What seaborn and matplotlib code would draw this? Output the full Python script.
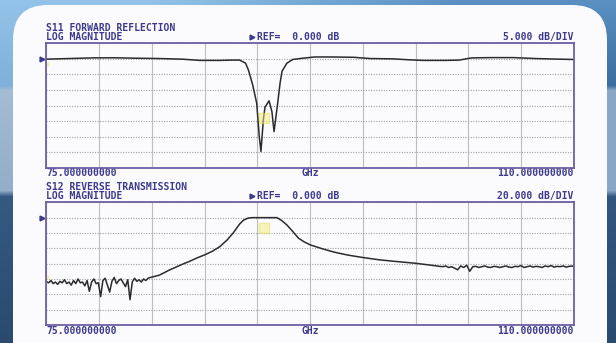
import numpy as np
import seaborn as sns
import matplotlib.pyplot as plt
from matplotlib.patches import FancyBboxPatch
import matplotlib.transforms as mtransforms

# Sweep settings (GHz) and display scale
f_start, f_stop = 75.0, 110.0
s11_ref, s11_div = 0.0, 5.0
s12_ref, s12_div = 0.0, 20.0

# S11 forward reflection (GHz, dB)
s11_freq = [75.0, 76.5, 78.0, 79.5, 81.0, 82.5, 84.0, 85.2, 86.5, 87.3, 87.83,
            88.22, 88.41, 88.7, 88.96, 89.13, 89.24, 89.4, 89.51, 89.78, 89.97,
            90.11, 90.35, 90.51, 90.64, 90.96, 91.35, 92.0, 92.8, 94.0, 95.4,
            96.5, 98.0, 99.04, 100.0, 101.5, 102.4, 103.2, 104.5, 106.0, 107.5,
            109.0, 110.0]
s11_db = [-0.1, 0.1, 0.3, 0.35, 0.2, 0.1, -0.1, -0.5, -0.5, -0.4, -0.4,
          -1.4, -3.6, -8.5, -14.3, -25.0, -29.8, -19.6, -15.5, -13.5, -17.0,
          -23.4, -14.3, -7.8, -4.0, -1.4, -0.2, 0.2, 0.6, 0.6, 0.5,
          0.1, 0.0, -0.3, -0.5, -0.5, -0.4, 0.3, 0.4, 0.4, 0.1,
          -0.1, -0.2]

# S12 reverse transmission (GHz, dB): noisy floor, passband, noisy floor
s12_freq = [75.00, 75.15, 75.30, 75.45, 75.60, 75.75, 75.90, 76.05, 76.20, 76.35,
            76.50, 76.65, 76.80, 76.95, 77.10, 77.25, 77.40, 77.55, 77.70, 77.85,
            78.00, 78.15, 78.30, 78.45, 78.60, 78.75, 78.90, 79.05, 79.20, 79.35,
            79.50, 79.65, 79.80, 79.95, 80.10, 80.25, 80.40, 80.55, 80.70, 80.85,
            81.00, 81.15, 81.30, 81.45, 81.60, 81.75, 81.90,
            82.5, 83.2, 84.0, 84.5, 85.0, 85.5, 86.0, 86.5, 87.0, 87.4, 87.83,
            88.1, 88.4, 88.7, 89.5, 90.3, 90.6, 90.96, 91.35, 91.74, 92.1, 92.52,
            93.3, 94.1, 95.0, 96.0, 97.1, 98.0, 99.5, 100.4, 101.1,
            101.3, 101.5, 101.7, 101.9, 102.1, 102.3, 102.5, 102.7, 102.9, 103.1,
            103.3, 103.5, 103.7, 103.9, 104.1, 104.3, 104.5, 104.7, 104.9, 105.1,
            105.3, 105.5, 105.7, 105.9, 106.1, 106.3, 106.5, 106.7, 106.9, 107.1,
            107.3, 107.5, 107.7, 107.9, 108.1, 108.3, 108.5, 108.7, 108.9, 109.1,
            109.3, 109.5, 109.7, 110.0]
s12_db = [-83.5, -85, -82, -86, -84, -87, -83, -85, -81, -86,
          -84, -88, -82, -86, -80, -85, -84, -89, -82, -96,
          -84, -80, -86, -85, -103, -82, -79, -88, -97, -83,
          -78, -86, -82, -80, -85, -90, -81, -107, -84, -79,
          -83, -81, -84, -80, -82, -79, -78,
          -75, -68, -61, -57, -52.5, -48.6, -44, -38, -29, -20, -8.2,
          -3, -0.5, 0, 0, 0, -3.5, -9.5, -18, -26.9, -31.5, -35.6,
          -40.5, -45, -48.8, -52, -55, -56.8, -59.5, -61.7, -63.5,
          -64, -63, -65, -64, -66, -68, -63, -65, -62, -70,
          -64, -63.5, -65, -64, -63, -64.5, -65, -63.5, -64, -65,
          -64, -63, -64.5, -65, -63.5, -64, -62.5, -65, -64, -63,
          -64.5, -63.5, -64, -65, -63, -64, -62.5, -64.5, -63.5, -64,
          -63, -64.5, -63.5, -63]

# Marker positions (GHz, dB)
s11_marker = (89.45, -19.0)
s12_marker = (89.45, -13.5)

W, H = 616, 343
txt_color = '#3d3a8e'
frame_color = '#6e5fa3'
trace_color = '#2b2b2b'
panel_color = '#fbfbfd'

sns.set_style("white")
plt.rcParams['font.family'] = ['DejaVu Sans Mono', 'DejaVu Sans']

fig = plt.figure(figsize=(W / 100, H / 100), dpi=100)

# background: blue gradient with a white rounded card, pixel coordinates
bg = fig.add_axes([0, 0, 1, 1])
bg.set_xlim(0, W)
bg.set_ylim(H, 0)
bg.axis('off')
stops = [0, 85, 90, 190, 196, 343]
left_cols = ['#93c3e8', '#7fb0da', '#a4bcd4', '#94adc8', '#355a82', '#2b4a6e']
right_cols = ['#5a90c2', '#3d6e9f', '#8aa6c6', '#8aa6c6', '#335680', '#2a4a6e']
rows = np.arange(H)
img = np.zeros((H, 2, 3))
for j, cols in enumerate([left_cols, right_cols]):
    rgb = np.array([plt.matplotlib.colors.to_rgb(c) for c in cols])
    for k in range(3):
        img[:, j, k] = np.interp(rows, stops, rgb[:, k])
bg.imshow(img, extent=(0, W, H, 0), aspect='auto', interpolation='bilinear')
card = FancyBboxPatch((13 + 35, 5 + 35), 594 - 70, 420, boxstyle="round,pad=35",
                      fc=panel_color, ec='none')
bg.add_patch(card)

font = dict(fontsize=7, fontweight='bold', color=txt_color, va='center')


def panel(rect_px, freq, db, ref, div, title, scale_txt, marker, edge_db):
    x0, y0, x1, y1 = rect_px
    ax = fig.add_axes([x0 / W, 1 - y1 / H, (x1 - x0) / W, (y1 - y0) / H])
    ax.set_facecolor(panel_color)
    sns.lineplot(x=freq, y=db, ax=ax, color=trace_color, linewidth=1.1)
    ax.set_xlim(f_start, f_stop)
    ax.set_ylim(ref - 7 * div, ref + div)
    ax.set_xticks(np.linspace(f_start, f_stop, 11))
    ax.set_yticks(np.linspace(ref - 7 * div, ref + div, 9))
    ax.tick_params(length=0, labelbottom=False, labelleft=False)
    ax.set(xlabel='', ylabel='')
    ax.xaxis.grid(True, color='#bdbdbd', lw=0.8)
    ax.yaxis.grid(True, color='#a5a5a5', lw=0.8, linestyle=(0, (1, 1.3)))
    for sp in ax.spines.values():
        sp.set_visible(True)
        sp.set_color(frame_color)
        sp.set_linewidth(1.3)
    # reference position arrow on the left
    tr = mtransforms.blended_transform_factory(ax.transAxes, ax.transData)
    ax.plot([-0.008], [ref], marker='>', ms=3.5, color=txt_color,
            transform=tr, clip_on=False)
    ax.plot([0.002], [edge_db], marker='s', ms=3, color='#f0ea70', alpha=0.6,
            mec='none', transform=tr, clip_on=False)
    ax.plot([marker[0]], [marker[1]], marker='s', ms=7, mfc='#f3ee7a',
            mec='#e6dc55', alpha=0.5)

    # header and footer texts
    bg.text(x0, y0 - 15, title, ha='left', **font)
    bg.text(x0, y0 - 6, 'LOG MAGNITUDE', ha='left', **font)
    bg.plot([251.5], [y0 - 6], marker='>', ms=3.5, color=txt_color)
    bg.text(257.4, y0 - 6, 'REF=  0.000 dB', ha='left', **font)
    bg.text(x1, y0 - 6, scale_txt, ha='right', **font)
    bg.text(x0, y1 + 5.5, '75.000000000', ha='left', **font)
    bg.text(310, y1 + 5.5, 'GHz', ha='center', **font)
    bg.text(x1, y1 + 5.5, '110.000000000', ha='right', **font)
    return ax


ax1 = panel((46.4, 43.3, 573.7, 167.7), s11_freq, s11_db, s11_ref, s11_div,
            'S11 FORWARD REFLECTION', '5.000 dB/DIV', s11_marker, -1.5)
ax2 = panel((46.4, 202.3, 573.7, 325.0), s12_freq, s12_db, s12_ref, s12_div,
            'S12 REVERSE TRANSMISSION', '20.000 dB/DIV', s12_marker, -77)

fig.savefig('out.png', dpi=100)
